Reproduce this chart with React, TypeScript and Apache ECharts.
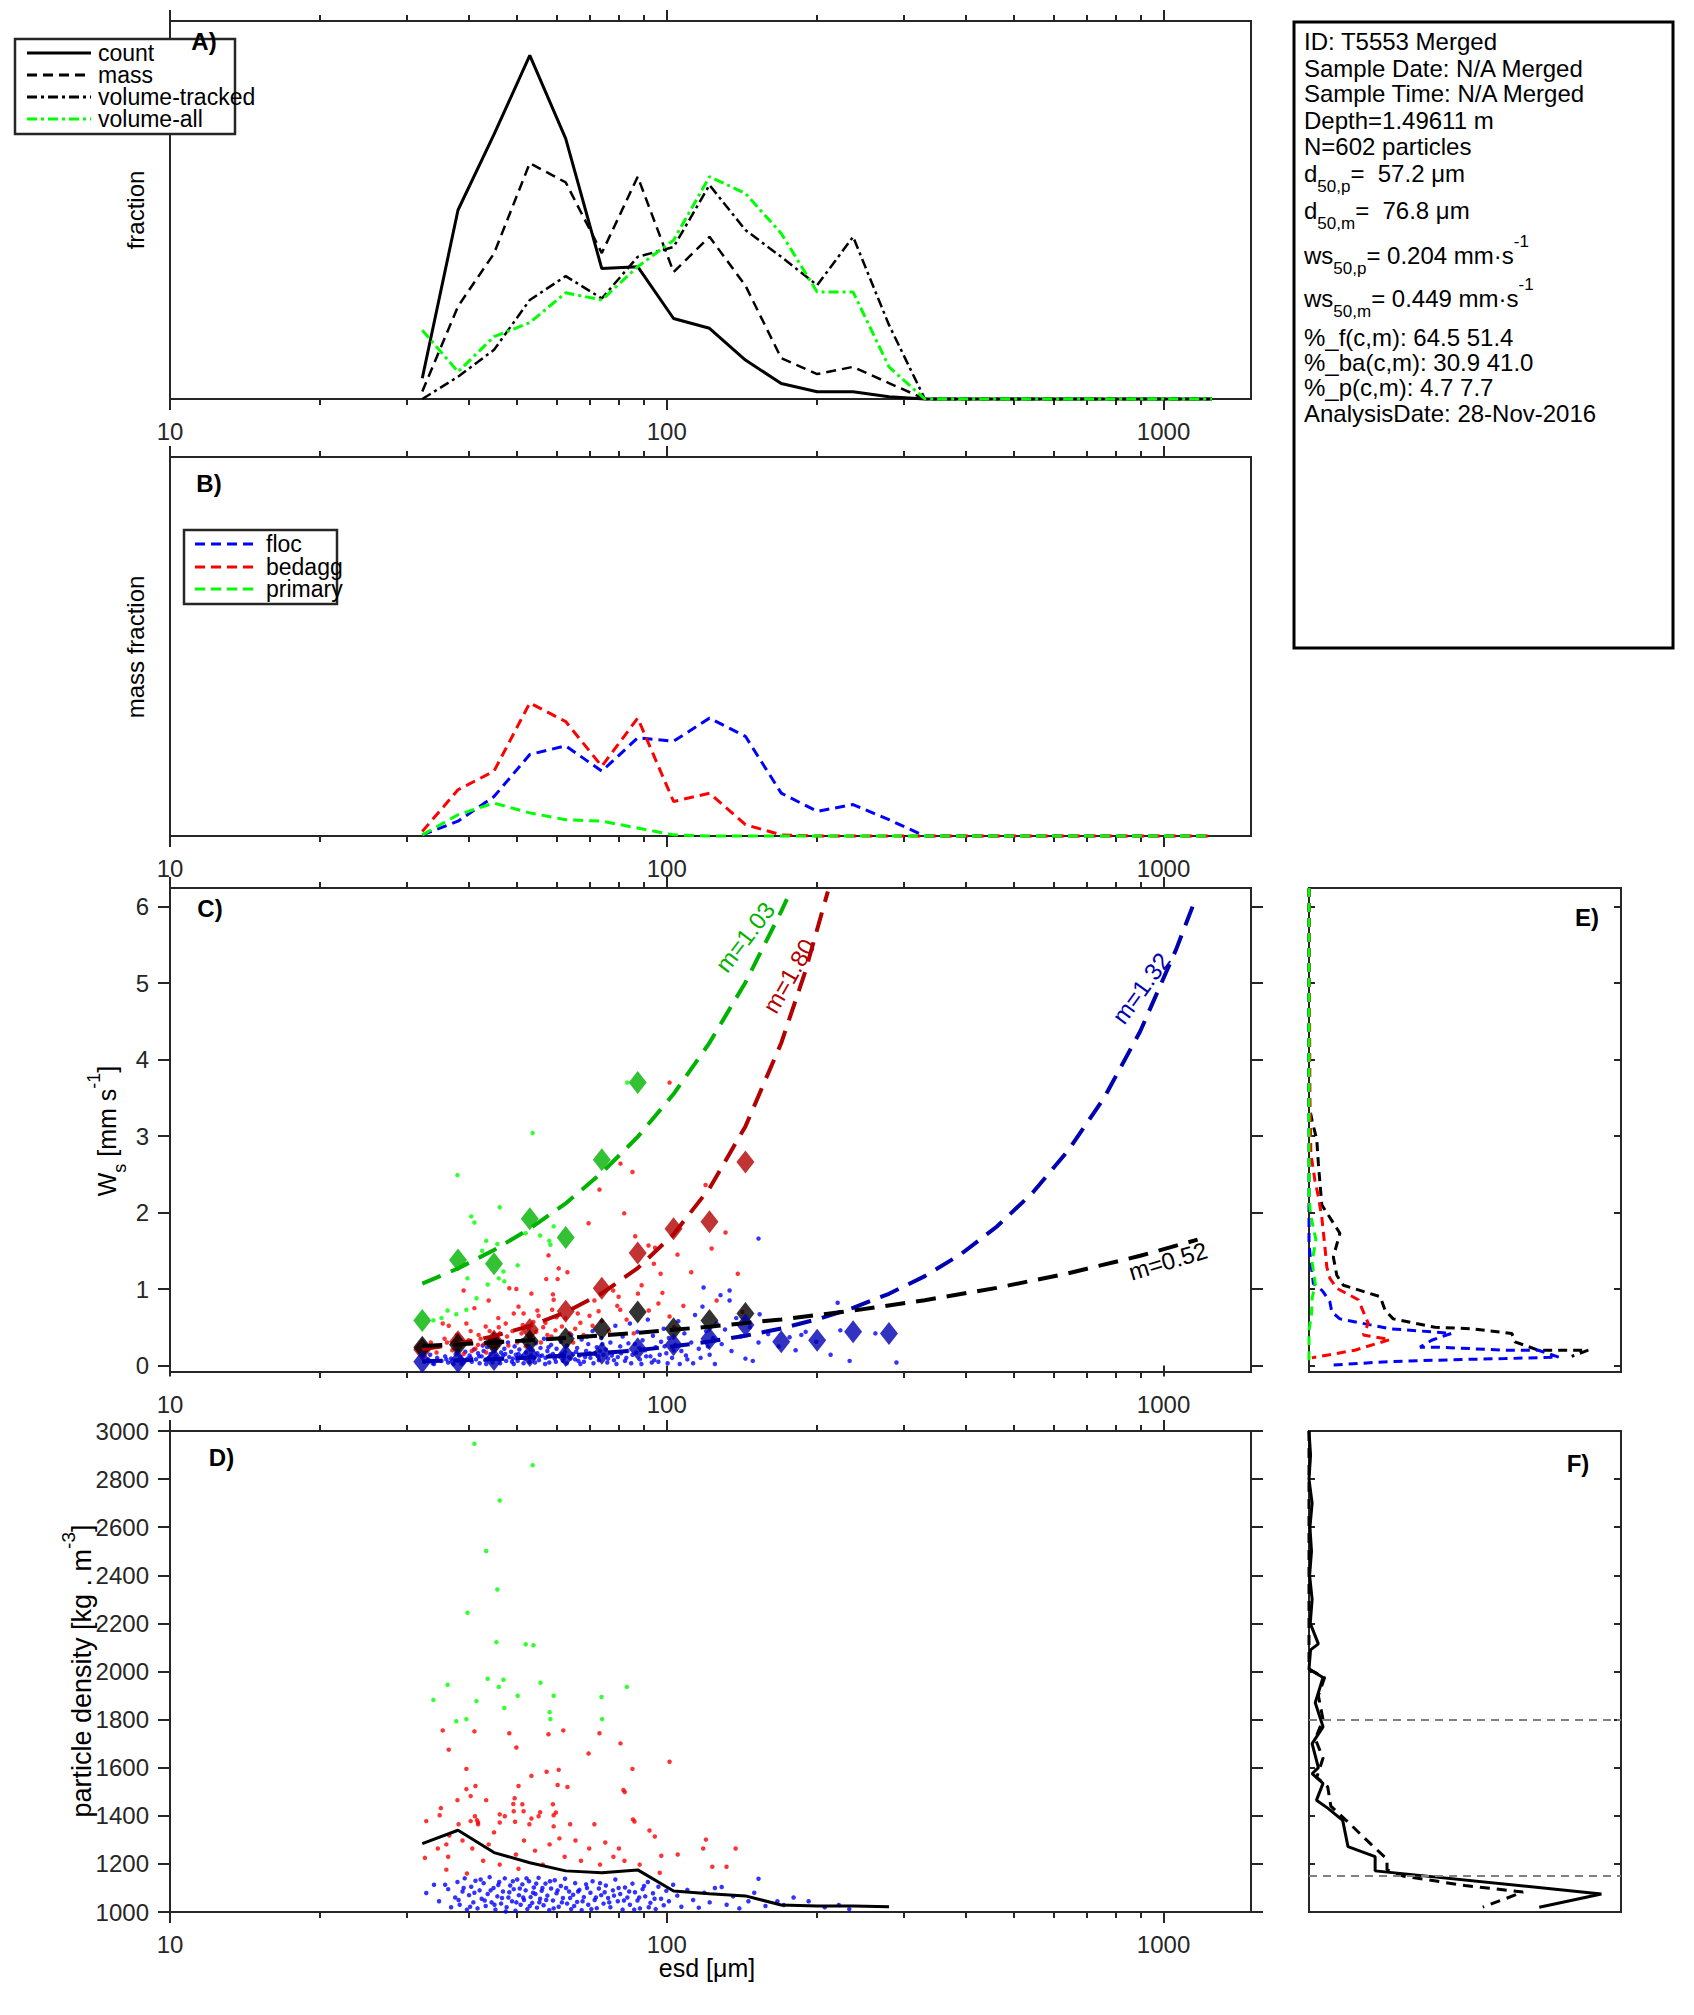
import React, { useEffect, useRef } from "react";
import * as echarts from "echarts";

// ---------------- data ----------------
const BIN_ESD = [32.2, 38.0, 44.9, 53.0, 62.6, 74.0, 87.4, 103.2, 121.9, 144.0, 170.0, 200.8, 237.2, 280.1, 330.8, 390.7, 461.4, 545.0, 643.6, 760.0, 897.7, 1060.3, 1252.2];

// Panel A (fraction)
const A_COUNT = [0.055, 0.50, 0.70, 0.909, 0.689, 0.345, 0.350, 0.213, 0.187, 0.103, 0.041, 0.019, 0.019, 0.006, 0, 0, 0, 0, 0, 0, 0, 0, 0];
const A_MASS = [0.02, 0.245, 0.385, 0.624, 0.573, 0.386, 0.588, 0.336, 0.429, 0.30, 0.108, 0.066, 0.085, 0.042, 0, 0, 0, 0, 0, 0, 0, 0, 0];
const A_VOL_TRACKED = [0.0, 0.059, 0.13, 0.262, 0.325, 0.266, 0.376, 0.402, 0.566, 0.447, 0.376, 0.301, 0.429, 0.196, 0, 0, 0, 0, 0, 0, 0, 0, 0];
const A_VOL_ALL = [0.182, 0.072, 0.165, 0.202, 0.281, 0.262, 0.35, 0.42, 0.588, 0.544, 0.438, 0.283, 0.283, 0.085, 0, 0, 0, 0, 0, 0, 0, 0, 0];

// Panel B (mass fraction)
const B_FLOC = [0.003, 0.039, 0.104, 0.215, 0.238, 0.171, 0.259, 0.25, 0.311, 0.263, 0.113, 0.065, 0.083, 0.043, 0, 0, 0, 0, 0, 0, 0, 0, 0];
const B_BEDAGG = [0.012, 0.122, 0.171, 0.351, 0.302, 0.184, 0.311, 0.091, 0.113, 0.030, 0.003, 0, 0, 0, 0, 0, 0, 0, 0, 0, 0, 0, 0];
const B_PRIMARY = [0.003, 0.056, 0.087, 0.061, 0.043, 0.039, 0.021, 0.003, 0, 0, 0, 0, 0, 0, 0, 0, 0, 0, 0, 0, 0, 0, 0];

// Panel C: bin medians (diamonds)
const C_MED_PRIMARY = [0.59, 1.38, 1.33, 1.92, 1.675, 2.69, 3.70];
const C_MED_BEDAGG = [0.21, 0.31, 0.32, 0.47, 0.71, 1.01, 1.47, 1.79, 1.88, 2.66];
const C_MED_ALL = [0.24, 0.27, 0.29, 0.32, 0.35, 0.48, 0.70, 0.48, 0.59, 0.68];
const C_MED_FLOC = [0.05, 0.05, 0.08, 0.13, 0.13, 0.16, 0.22, 0.27, 0.35, 0.53, 0.31, 0.33, 0.44, 0.42];

// Panel C: fitted curves
const FIT_PRIMARY_ESD = [32.2, 38.0, 44.9, 53.0, 62.6, 74.0, 87.4, 103.2, 121.9, 144.0, 170.0, 174.5];
const FIT_PRIMARY_WS = [1.07, 1.27, 1.51, 1.79, 2.12, 2.52, 2.99, 3.55, 4.22, 5.01, 5.94, 6.10];
const FIT_BEDAGG_ESD = [32.2, 38.0, 44.9, 53.0, 62.6, 74.0, 87.4, 103.2, 121.9, 144.0, 170.0, 190.0, 211.0];
const FIT_BEDAGG_WS = [0.211, 0.284, 0.384, 0.517, 0.698, 0.943, 1.273, 1.717, 2.317, 3.127, 4.218, 5.15, 6.20];
const FIT_FLOC_ESD = [32.2, 38.0, 44.9, 53.0, 62.6, 74.0, 87.4, 103.2, 121.9, 144.0, 170.0, 200.8, 237.2, 280.1, 330.8, 390.7, 461.4, 545.0, 643.6, 760.0, 897.7, 1060.3, 1147];
const FIT_FLOC_WS = [0.054, 0.067, 0.084, 0.104, 0.130, 0.162, 0.201, 0.251, 0.313, 0.389, 0.485, 0.604, 0.754, 0.938, 1.169, 1.455, 1.815, 2.259, 2.816, 3.506, 4.371, 5.442, 6.02];
const FIT_ALL_ESD = [32.2, 44.9, 62.6, 87.4, 121.9, 170.0, 237.2, 330.8, 461.4, 643.6, 897.7, 1171];
const FIT_ALL_WS = [0.254, 0.302, 0.359, 0.427, 0.508, 0.603, 0.718, 0.854, 1.015, 1.207, 1.435, 1.646];

// Panel C: particles [esd, ws]
const C_PRIMARY_PTS = [[37.9,2.49],[53.7,3.04],[40.4,1.95],[41.0,1.87],[46.1,2.07],[43.3,1.63],[45.6,1.59],[52.0,1.73],[55.6,1.70],[59.2,1.82],[58.0,1.63],[58.3,1.58],[50.1,1.31],[46.9,1.23],[47.1,1.10],[45.9,1.14],[43.6,1.06],[39.7,1.14],[41.4,0.88],[39.5,0.73],[37.7,0.67],[36.2,0.72],[33.9,0.59],[83.2,3.70],[35.2,0.62],[42.5,1.50]];
const C_BEDAGG_PTS = [[101.3,3.70],[80.7,2.64],[85.3,2.53],[73.2,2.30],[82.1,1.99],[69.6,1.86],[119.7,2.36],[131.3,1.74],[123.1,1.53],[105.1,1.45],[86.4,1.69],[91.9,1.57],[94.7,1.54],[94.2,1.33],[97.2,1.20],[57.8,1.44],[60.6,1.27],[63.1,1.22],[60.3,1.13],[57.2,1.13],[48.2,1.01],[49.8,1.00],[53.4,0.94],[59.0,0.93],[59.2,0.86],[80.0,0.90],[87.5,0.94],[96.2,0.81],[41.0,0.75],[35.4,0.55],[36.4,0.52],[39.5,0.55],[50.3,0.77],[49.2,0.68],[51.5,0.68],[54.9,0.72],[55.2,0.65],[58.8,0.73],[60.0,0.63],[69.9,0.65],[72.9,0.71],[70.9,0.52],[79.5,0.78],[80.6,0.73],[40.3,0.45],[41.8,0.40],[43.2,0.51],[45.9,0.50],[46.1,0.42],[47.7,0.38],[41.7,0.27],[40.5,0.19],[36.1,0.30],[34.4,0.17],[43.3,0.17],[51.3,0.53],[53.9,0.57],[57.0,0.56],[61.5,0.51],[65.4,0.48],[67.0,0.56],[57.5,0.40],[101.3,0.64],[32.6,0.22],[33.5,0.30],[34.8,0.25],[35.7,0.35],[37.0,0.20],[37.8,0.40],[38.5,0.28],[39.0,0.15],[39.9,0.33],[41.2,0.22],[42.2,0.35],[42.9,0.28],[44.0,0.45],[44.5,0.30],[45.1,0.22],[46.5,0.31],[47.4,0.55],[48.0,0.26],[48.9,0.45],[50.0,0.30],[51.0,0.42],[52.0,0.25],[52.8,0.48],[53.5,0.35],[54.6,0.44],[55.8,0.30],[56.4,0.50],[58.6,0.38],[59.7,0.46],[61.0,0.35],[62.5,0.62],[63.8,0.42],[64.8,0.30],[66.2,0.68],[68.0,0.40],[71.5,0.85],[74.0,0.58],[76.5,0.45],[78.0,0.98],[83.0,0.60],[85.8,0.42],[89.0,1.05],[92.0,0.72],[98.0,0.95],[103.5,0.50],[108.0,0.78],[112.0,1.22],[126.0,0.85],[139.0,1.20],[142.0,0.70],[45.8,0.62],[43.8,0.85],[39.0,0.98]];
const C_FLOC_PTS = [[32.5,0.05],[33.1,0.08],[33.8,0.03],[34.5,0.10],[35.2,0.06],[35.8,0.12],[36.3,0.04],[33.4,0.14],[36.8,0.09],[37.2,0.02],[37.6,0.15],[38.0,0.07],[38.4,0.11],[38.9,0.04],[39.3,0.18],[39.7,0.09],[40.1,0.13],[40.5,0.05],[40.9,0.21],[41.3,0.08],[41.7,0.16],[42.0,0.03],[42.4,0.12],[42.8,0.19],[43.1,0.07],[43.5,0.24],[43.8,0.10],[44.2,0.15],[44.6,0.04],[45.0,0.20],[45.3,0.12],[45.7,0.27],[46.0,0.08],[46.4,0.17],[46.8,0.13],[47.1,0.22],[47.5,0.06],[47.9,0.30],[48.2,0.11],[48.6,0.18],[49.0,0.09],[49.4,0.25],[49.7,0.14],[50.1,0.06],[50.5,0.21],[50.9,0.12],[51.3,0.33],[51.7,0.09],[52.1,0.17],[52.5,0.26],[52.9,0.05],[53.3,0.14],[53.7,0.20],[54.1,0.10],[54.5,0.29],[54.9,0.16],[55.3,0.07],[55.7,0.23],[56.1,0.13],[56.6,0.35],[57.0,0.10],[57.5,0.19],[58.0,0.04],[58.5,0.27],[59.0,0.15],[59.5,0.09],[60.0,0.22],[60.6,0.12],[61.2,0.31],[61.8,0.06],[62.4,0.18],[63.0,0.26],[63.6,0.11],[64.2,0.40],[64.8,0.15],[65.4,0.08],[66.0,0.23],[66.7,0.13],[67.4,0.34],[68.1,0.05],[68.8,0.19],[69.5,0.28],[70.2,0.10],[70.9,0.45],[71.6,0.16],[72.3,0.24],[73.0,0.07],[73.8,0.36],[74.6,0.14],[75.4,0.21],[76.2,0.09],[77.0,0.30],[77.9,0.17],[78.8,0.52],[79.7,0.11],[80.6,0.25],[81.5,0.38],[82.4,0.06],[83.3,0.19],[84.3,0.55],[85.3,0.14],[86.3,0.28],[87.3,0.44],[88.3,0.08],[89.4,0.33],[90.5,0.20],[91.6,0.60],[92.7,0.12],[93.8,0.39],[95.0,0.24],[96.2,0.05],[97.4,0.31],[98.6,0.48],[99.8,0.16],[101,0.36],[102.5,0.10],[104,0.27],[105.5,0.58],[107,0.19],[108.5,0.42],[110,0.08],[112,0.30],[114,0.66],[116,0.22],[118,0.77],[118.6,1.02],[120,0.45],[122,0.14],[124,0.36],[126,0.55],[128.3,0.92],[129,0.28],[131,0.47],[133.8,0.98],[133.8,0.85],[135,0.19],[138,0.62],[141,0.38],[144,0.09],[147,0.50],[149,0.06],[153,1.66],[153.8,0.67],[153,0.30],[160,0.41],[168,0.25],[176.7,0.37],[181.7,0.20],[186.6,0.40],[190.4,0.44],[200,0.31],[213.7,0.14],[220.8,0.82],[223.6,0.46],[233.4,0.06],[263,0.42],[290,0.04],[34.0,0.02],[36.0,0.08],[38.6,0.02],[40.3,0.10],[41.9,0.12],[43.3,0.02],[44.9,0.09],[46.2,0.03],[47.3,0.15],[48.8,0.05],[50.3,0.15],[51.5,0.03],[52.7,0.11],[54.3,0.04],[55.5,0.12],[56.9,0.02],[58.2,0.13],[59.8,0.05],[61.5,0.15],[62.9,0.03],[64.0,0.09],[65.7,0.18],[67.0,0.02],[68.5,0.11],[70.0,0.16],[71.2,0.03],[72.8,0.12],[74.2,0.28],[75.9,0.04],[77.5,0.13],[79.2,0.02],[80.9,0.16],[82.9,0.10],[84.8,0.03],[86.8,0.17],[88.9,0.02],[90.9,0.12],[93.3,0.04],[96.8,0.14],[100.4,0.03],[103.2,0.20],[106.2,0.02],[109.3,0.13],[113,0.03],[117,0.10],[121,0.25],[125,0.02],[37.9,0.19],[42.6,0.26],[45.5,0.33],[49.2,0.02],[53.0,0.38],[57.8,0.24],[62.0,0.09],[66.4,0.06],[69.1,0.38],[73.4,0.19],[78.3,0.07],[83.7,0.29],[88.0,0.23],[94.4,0.07],[99.0,0.25]];

// Panel D: particles [esd, density]
const D_PRIMARY_PTS = [[41.0,2947],[53.7,2858],[46.1,2711],[43.3,2501],[45.6,2341],[39.7,2244],[45.4,2122],[52.0,2113],[53.9,2109],[43.6,1970],[46.9,1966],[36.2,1945],[45.9,1936],[55.7,1953],[83.1,1936],[33.9,1882],[41.4,1877],[50.1,1899],[59.2,1899],[73.9,1894],[47.1,1848],[58.1,1831],[58.3,1802],[74.1,1802],[39.5,1802],[37.7,1793]];
const D_BEDAGG_PTS = [[35.4,1755],[41.0,1751],[48.2,1743],[57.8,1739],[61.9,1755],[73.2,1743],[36.4,1675],[49.8,1684],[80.7,1701],[69.6,1659],[101.3,1625],[39.5,1595],[85.3,1595],[53.4,1566],[57.3,1583],[60.6,1591],[39.5,1511],[41.2,1524],[50.3,1524],[60.3,1528],[63.1,1520],[81.8,1507],[82.3,1499],[40.3,1482],[37.9,1465],[43.3,1465],[49.4,1473],[51.2,1448],[59.0,1448],[34.9,1402],[46.1,1406],[49.2,1419],[51.5,1419],[55.2,1398],[53.4,1389],[59.2,1402],[59.8,1414],[85.5,1385],[86.1,1376],[40.3,1378],[41.5,1382],[41.7,1372],[46.1,1372],[49.5,1375],[32.8,1378],[32.6,1225],[34.6,1264],[36.0,1281],[36.3,1230],[36.0,1176],[35.1,1432],[36.5,1318],[38.1,1365],[38.8,1297],[39.6,1160],[40.6,1264],[41.1,1398],[41.7,1365],[42.7,1213],[43.8,1281],[44.9,1331],[46.1,1197],[47.2,1398],[49.1,1449],[49.7,1239],[50.3,1180],[51.6,1297],[52.9,1365],[54.3,1255],[55.6,1415],[56.3,1197],[58.1,1281],[59.2,1356],[60.8,1306],[62.3,1230],[63.9,1365],[65.5,1297],[67.2,1213],[69.8,1264],[71.5,1365],[73.4,1197],[75.2,1289],[78.1,1230],[80.1,1264],[82.2,1213],[88.2,1197],[92.3,1339],[94.6,1314],[96.8,1163],[97.5,1234],[105.2,1239],[118.4,1264],[119.9,1301],[123.5,1188],[131.9,1188],[137.6,1264]];
const D_FLOC_PTS = [[32.8,1079],[34.0,1113],[34.8,1045],[35.8,1113],[36.8,1020],[36.3,1095],[37.5,1060],[37.9,1125],[38.3,1030],[38.8,1085],[39.2,1140],[39.6,1010],[40.0,1070],[40.4,1105],[40.8,1040],[41.2,1130],[41.6,1015],[42.0,1090],[42.4,1055],[42.8,1120],[43.2,1025],[43.6,1075],[44.0,1145],[44.4,1040],[44.8,1100],[45.2,1010],[45.6,1065],[46.0,1125],[46.4,1035],[46.8,1085],[47.2,1140],[47.6,1020],[48.0,1060],[48.4,1110],[48.8,1045],[49.2,1095],[49.6,1005],[50.0,1135],[50.4,1070],[50.8,1030],[51.2,1115],[51.6,1050],[52.0,1090],[52.4,1012],[52.8,1128],[53.2,1062],[53.6,1038],[54.0,1102],[54.4,1075],[54.8,1018],[55.2,1142],[55.6,1055],[56.0,1088],[56.5,1028],[57.0,1118],[57.5,1068],[58.0,1008],[58.5,1098],[59.0,1048],[59.5,1132],[60.0,1078],[60.6,1022],[61.2,1108],[61.8,1058],[62.4,1138],[63.0,1035],[63.6,1085],[64.2,1012],[64.8,1072],[65.4,1120],[66.0,1042],[66.7,1092],[67.4,1008],[68.1,1062],[68.8,1115],[69.5,1030],[70.2,1080],[70.9,1128],[71.6,1050],[72.3,1016],[73.0,1098],[73.8,1070],[74.6,1035],[75.4,1110],[76.2,1058],[77.0,1020],[77.9,1090],[78.8,1135],[79.7,1045],[80.6,1075],[81.5,1010],[82.4,1102],[83.3,1060],[84.3,1030],[85.3,1118],[86.3,1082],[87.3,1048],[88.3,1015],[89.4,1095],[90.5,1065],[91.6,1125],[92.7,1038],[93.8,1078],[95.0,1012],[96.2,1105],[97.4,1055],[98.6,1028],[99.8,1088],[101,1045],[103,1113],[105,1068],[107,1022],[110,1092],[113,1050],[116,1018],[119,1080],[122,1040],[125,1100],[129,1104],[132,1030],[136,1065],[140,1015],[146,1045],[150,1080],[153,1138],[158,1025],[167,1045],[172,1029],[180,1060],[193,1045],[208,1020],[222,1029],[233,1012],[38.1,1050],[39.0,1100],[40.2,1022],[41.0,1080],[42.2,1135],[43.0,1048],[44.2,1090],[45.0,1030],[45.8,1112],[46.6,1058],[47.4,1002],[48.2,1082],[49.0,1128],[49.8,1040],[50.6,1098],[51.4,1060],[52.2,1140],[53.0,1025],[53.8,1080],[54.6,1118],[55.4,1040],[56.2,1100],[57.2,1050],[58.2,1128],[59.2,1015],[60.3,1090],[61.5,1040],[62.7,1100],[63.9,1058],[65.1,1025],[66.3,1085],[67.7,1045],[69.1,1100],[70.5,1012],[72.0,1060],[73.4,1120],[75.0,1082],[76.6,1040],[78.3,1068],[80.0,1100],[82.0,1048],[84.0,1085],[86.0,1010],[88.0,1060],[90.0,1108],[92.0,1020],[94.5,1055]];
const D_MEAN_RHO = [1284, 1340, 1247, 1205, 1171, 1163, 1175, 1087, 1076, 1067, 1029, 1025, 1025, 1022];

// Panel E: [fraction, ws]
const E_ALL = [[0,6.245],[0,3.4],[0.01,3.2],[0.025,2.95],[0.03,2.64],[0.041,2.10],[0.099,1.73],[0.078,1.42],[0.089,1.18],[0.11,1.05],[0.228,0.90],[0.244,0.72],[0.27,0.61],[0.404,0.50],[0.521,0.48],[0.65,0.42],[0.66,0.31],[0.735,0.20],[0.895,0.20],[0.842,0.12]];
const E_FLOC = [[0,6.245],[0,1.6],[0.005,1.38],[0.014,1.07],[0.03,1.03],[0.046,0.96],[0.067,0.83],[0.073,0.70],[0.099,0.61],[0.26,0.48],[0.361,0.45],[0.457,0.42],[0.393,0.33],[0.356,0.24],[0.414,0.24],[0.628,0.20],[0.735,0.20],[0.80,0.11],[0.628,0.09],[0.5,0.08],[0.254,0.05],[0.073,0.006]];
const E_BEDAGG = [[0,6.245],[0.003,3.5],[0.006,2.77],[0.019,2.42],[0.03,2.21],[0.041,1.94],[0.051,1.55],[0.057,1.29],[0.067,1.14],[0.089,1.01],[0.158,0.86],[0.19,0.55],[0.174,0.40],[0.26,0.34],[0.147,0.20],[0.009,0.10]];
const E_PRIMARY = [[0,6.245],[0,2.2],[0.005,1.97],[0.022,1.65],[0.01,1.35],[0.02,1.07],[0.01,0.88],[0.008,0.68],[0,0.45],[0,0.0]];

// Panel F: [fraction, density]
const F_COUNT = [[0.0,3000],[0.005,2900],[0,2800],[0.01,2700],[0.003,2600],[0.008,2500],[0.002,2400],[0.01,2300],[0.004,2200],[0.03,2115],[0.005,2090],[0.0,2010],[0.045,1975],[0.02,1870],[0.045,1770],[0.01,1700],[0.03,1600],[0.01,1575],[0.045,1535],[0.024,1465],[0.06,1432],[0.108,1381],[0.125,1272],[0.212,1230],[0.212,1171],[0.937,1075],[0.738,1020]];
const F_MASS = [[0,3000],[0,2010],[0.05,1975],[0.03,1900],[0.045,1800],[0.02,1720],[0.045,1640],[0.025,1560],[0.06,1520],[0.07,1440],[0.12,1380],[0.2,1280],[0.25,1220],[0.25,1175],[0.3,1150],[0.5,1110],[0.686,1083],[0.557,1020]];
const F_REF_LINES = [1800, 1150];

// ticks
const TICK_MAJOR = [10, 100, 1000];
const TICK_MINOR = [20, 30, 40, 50, 60, 70, 80, 90, 200, 300, 400, 500, 600, 700, 800, 900];
const WS_TICKS = [0, 1, 2, 3, 4, 5, 6];

const INFO_TOP = ["ID: T5553 Merged", "Sample Date: N/A Merged", "Sample Time: N/A Merged", "Depth=1.49611 m", "N=602 particles"];
const INFO_RICH = [
  "{n|d}{s|50,p}{n|=\u00a0\u00a057.2 \u03bcm}",
  "{n|d}{s|50,m}{n|=\u00a0\u00a076.8 \u03bcm}",
  "{n|ws}{s|50,p}{n|= 0.204 mm\u00b7s}{p|-1}",
  "{n|ws}{s|50,m}{n|= 0.449 mm\u00b7s}{p|-1}",
];
const INFO_BOTTOM = ["%_f(c,m): 64.5 51.4", "%_ba(c,m): 30.9 41.0", "%_p(c,m): 4.7 7.7", "AnalysisDate: 28-Nov-2016"];

// ---------------- styling / layout ----------------
const FONT = "'Liberation Sans', Arial, Helvetica, sans-serif";
const AX = "#262626";
const LMAX = Math.log10(1500);

const pairs = (xs: number[], ys: number[]) => ys.map((y, i) => [xs[i], y]);

function esdAxes(gridIndex: number) {
  const common: any = { type: "value", gridIndex, min: 1, max: LMAX, axisLine: { show: false }, splitLine: { show: false } };
  const tick = (vals: number[], len: number) => ({ show: true, customValues: vals.map((v) => Math.log10(v)), length: len, lineStyle: { color: AX, width: 2 } });
  return [
    { type: "log", logBase: 10, gridIndex, min: 10, max: 1500, show: false },
    {
      ...common, position: "bottom", axisTick: tick(TICK_MAJOR, 11),
      axisLabel: { show: true, customValues: TICK_MAJOR.map((v) => Math.log10(v)), formatter: (v: number) => String(Math.round(Math.pow(10, v))), margin: 20, fontSize: 24, fontFamily: FONT, color: AX },
    },
    { ...common, position: "bottom", axisTick: tick(TICK_MINOR, 6), axisLabel: { show: false } },
    { ...common, position: "top", axisTick: tick(TICK_MAJOR, 11), axisLabel: { show: false } },
    { ...common, position: "top", axisTick: tick(TICK_MINOR, 6), axisLabel: { show: false } },
  ];
}

function yAxisDef(gridIndex: number, min: number, max: number, opts: any) {
  const base: any = { type: "value", gridIndex, min, max, axisLine: { show: false }, splitLine: { show: false }, axisTick: { show: false }, axisLabel: { show: false } };
  return { ...base, ...opts };
}

const tickStyle = { color: AX, width: 2 };
const labelStyle = { fontSize: 24, fontFamily: FONT, color: AX, margin: 21 };

function lineSeries(name: string, x: number, y: number, data: any[], color: string, width: number, type: any, z = 3) {
  return { name, type: "line", xAxisIndex: x, yAxisIndex: y, data, symbol: "none", clip: false, silent: true, z, lineStyle: { color, width, type } };
}
function dots(name: string, x: number, y: number, data: any[], color: string) {
  return { name, type: "scatter", xAxisIndex: x, yAxisIndex: y, data, symbol: "circle", symbolSize: 4.5, silent: true, itemStyle: { color, borderWidth: 0 } };
}
function diamonds(name: string, data: any[], color: string) {
  return { name, type: "scatter", xAxisIndex: 10, yAxisIndex: 2, data, symbol: "diamond", symbolSize: [18, 23], silent: true, z: 4, itemStyle: { color, borderWidth: 0 } };
}

const DASH = [10, 6];
const DASHDOT = [10, 4, 3, 4];
const FITDASH = [20, 11];

function txt(x: number, y: number, text: string, size: number, extra: any = {}, rotation = 0) {
  return {
    type: "text", x, y, rotation, z: 110,
    style: { text, fontSize: size, fontFamily: FONT, fill: extra.fill || "#000", fontWeight: extra.fontWeight || "normal", align: extra.align || "center", verticalAlign: "middle", textAlign: extra.align || "center", textVerticalAlign: "middle", rich: extra.rich },
  };
}
function richStyle(size: number, sub: number, lh: number) {
  return {
    n: { fontSize: size, lineHeight: lh, verticalAlign: "middle", fontFamily: FONT, fill: "#000" },
    s: { fontSize: sub, lineHeight: sub, verticalAlign: "bottom", fontFamily: FONT, fill: "#000" },
    p: { fontSize: sub, lineHeight: sub, verticalAlign: "top", fontFamily: FONT, fill: "#000" },
  };
}
function lgLine(x1: number, x2: number, y: number, color: string, dash: any) {
  return { type: "line", z: 111, shape: { x1, y1: y, x2, y2: y }, style: { stroke: color, lineWidth: 3, lineDash: dash } };
}

function buildOption() {
  const grids = [
    { left: 170, top: 21, width: 1081, height: 378 },
    { left: 170, top: 457, width: 1081, height: 379 },
    { left: 170, top: 888, width: 1081, height: 484 },
    { left: 170, top: 1431, width: 1081, height: 481 },
    { left: 1309, top: 888, width: 312, height: 484 },
    { left: 1309, top: 1431, width: 312, height: 481 },
  ].map((g) => ({ ...g, show: true, borderColor: AX, borderWidth: 2, backgroundColor: "rgba(0,0,0,0)", containLabel: false }));

  const xAxis: any[] = [
    ...esdAxes(0), ...esdAxes(1), ...esdAxes(2), ...esdAxes(3),
    { type: "value", gridIndex: 4, min: 0, max: 1, show: false },
    { type: "value", gridIndex: 5, min: 0, max: 1, show: false },
  ];

  const yAxis: any[] = [
    yAxisDef(0, 0, 1, {}),
    yAxisDef(1, 0, 1, {}),
    yAxisDef(2, -0.085, 6.245, { position: "left", axisTick: { show: true, customValues: WS_TICKS, length: 12, lineStyle: tickStyle }, axisLabel: { show: true, customValues: WS_TICKS, ...labelStyle } }),
    yAxisDef(2, -0.085, 6.245, { position: "right", axisTick: { show: true, customValues: WS_TICKS, length: 12, lineStyle: tickStyle } }),
    yAxisDef(3, 1000, 3000, { position: "left", interval: 200, axisTick: { show: true, length: 12, lineStyle: tickStyle }, axisLabel: { show: true, formatter: (v: number) => String(v), ...labelStyle } }),
    yAxisDef(3, 1000, 3000, { position: "right", interval: 200, axisTick: { show: true, length: 12, lineStyle: tickStyle } }),
    yAxisDef(4, -0.085, 6.245, { position: "left", axisTick: { show: true, inside: true, customValues: WS_TICKS, length: 6, lineStyle: tickStyle } }),
    yAxisDef(4, -0.085, 6.245, { position: "right", axisTick: { show: true, inside: true, customValues: WS_TICKS, length: 7, lineStyle: tickStyle } }),
    yAxisDef(5, 1000, 3000, { position: "left", interval: 200, axisTick: { show: true, inside: true, length: 6, lineStyle: tickStyle } }),
    yAxisDef(5, 1000, 3000, { position: "right", interval: 200, axisTick: { show: true, inside: true, length: 7, lineStyle: tickStyle } }),
  ];

  const series: any[] = [
    // A
    lineSeries("count", 0, 0, pairs(BIN_ESD, A_COUNT), "#000", 3, "solid"),
    lineSeries("mass", 0, 0, pairs(BIN_ESD, A_MASS), "#000", 2.5, DASH),
    lineSeries("volume-tracked", 0, 0, pairs(BIN_ESD, A_VOL_TRACKED), "#000", 2.5, DASHDOT),
    lineSeries("volume-all", 0, 0, pairs(BIN_ESD, A_VOL_ALL), "#00ff00", 3, DASHDOT),
    // B
    lineSeries("floc", 5, 1, pairs(BIN_ESD, B_FLOC), "#0000ff", 3, DASH),
    lineSeries("bedagg", 5, 1, pairs(BIN_ESD, B_BEDAGG), "#ff0000", 3, DASH),
    lineSeries("primary", 5, 1, pairs(BIN_ESD, B_PRIMARY), "#00ff00", 3, DASH),
    // C
    dots("c-floc", 10, 2, C_FLOC_PTS, "#0000ff"),
    dots("c-bedagg", 10, 2, C_BEDAGG_PTS, "#ff0000"),
    dots("c-primary", 10, 2, C_PRIMARY_PTS, "#00ff00"),
    diamonds("med-primary", pairs(BIN_ESD, C_MED_PRIMARY), "#00b300"),
    diamonds("med-bedagg", pairs(BIN_ESD, C_MED_BEDAGG), "#b30000"),
    diamonds("med-all", pairs(BIN_ESD, C_MED_ALL), "#000000"),
    diamonds("med-floc", pairs(BIN_ESD, C_MED_FLOC), "#0000b3"),
    lineSeries("fit-primary", 10, 2, pairs(FIT_PRIMARY_ESD, FIT_PRIMARY_WS), "#00b300", 4, FITDASH, 5),
    lineSeries("fit-bedagg", 10, 2, pairs(FIT_BEDAGG_ESD, FIT_BEDAGG_WS), "#b30000", 4, FITDASH, 5),
    lineSeries("fit-floc", 10, 2, pairs(FIT_FLOC_ESD, FIT_FLOC_WS), "#0000b3", 4, FITDASH, 5),
    lineSeries("fit-all", 10, 2, pairs(FIT_ALL_ESD, FIT_ALL_WS), "#000000", 4, FITDASH, 5),
    // D
    dots("d-floc", 15, 4, D_FLOC_PTS, "#0000ff"),
    dots("d-bedagg", 15, 4, D_BEDAGG_PTS, "#ff0000"),
    dots("d-primary", 15, 4, D_PRIMARY_PTS, "#00ff00"),
    lineSeries("d-mean", 15, 4, pairs(BIN_ESD, D_MEAN_RHO), "#000", 3, "solid", 5),
    // E
    lineSeries("e-all", 20, 6, E_ALL, "#000", 3, [9, 6]),
    lineSeries("e-floc", 20, 6, E_FLOC, "#0000ff", 3, [9, 6]),
    lineSeries("e-bedagg", 20, 6, E_BEDAGG, "#ff0000", 3, [9, 6]),
    lineSeries("e-primary", 20, 6, E_PRIMARY, "#00ff00", 3, [9, 6]),
    // F
    {
      ...lineSeries("f-count", 21, 8, F_COUNT, "#000", 3, "solid"),
      markLine: { silent: true, symbol: ["none", "none"], label: { show: false }, lineStyle: { color: "#808080", type: [8, 6], width: 2 }, data: F_REF_LINES.map((v) => ({ yAxis: v })) },
    },
    lineSeries("f-mass", 21, 8, F_MASS, "#000", 3, [10, 7]),
  ];

  const g: any[] = [];
  // legend A
  g.push({ type: "rect", z: 110, shape: { x: 15, y: 39, width: 220, height: 95 }, style: { fill: "#fff", stroke: AX, lineWidth: 2.5 } });
  g.push(lgLine(27, 91, 53, "#000", null), lgLine(27, 91, 75, "#000", DASH), lgLine(27, 91, 97, "#000", DASHDOT), lgLine(27, 91, 119, "#00ff00", DASHDOT));
  ["count", "mass", "volume-tracked", "volume-all"].forEach((t, i) => g.push(txt(98, 53 + i * 22, t, 23, { align: "left" })));
  // legend B
  g.push({ type: "rect", z: 110, shape: { x: 184, y: 530, width: 153, height: 74 }, style: { fill: "#fff", stroke: AX, lineWidth: 2.5 } });
  g.push(lgLine(195, 257, 544, "#0000ff", DASH), lgLine(195, 257, 567, "#ff0000", DASH), lgLine(195, 257, 589, "#00ff00", DASH));
  ["floc", "bedagg", "primary"].forEach((t, i) => g.push(txt(266, 544 + i * 22.5, t, 23, { align: "left" })));
  // info box
  g.push({ type: "rect", z: 110, shape: { x: 1294, y: 22, width: 379, height: 626 }, style: { fill: "#fff", stroke: "#000", lineWidth: 3 } });
  const topY = [41.7, 68, 93, 120, 146];
  INFO_TOP.forEach((t, i) => g.push(txt(1304, topY[i], t, 24, { align: "left" })));
  const richY = [173, 210, 255, 298];
  INFO_RICH.forEach((t, i) => g.push(txt(1304, richY[i], t, 24, { align: "left", rich: richStyle(24, 17, 44) })));
  const botY = [337, 362, 387, 413];
  INFO_BOTTOM.forEach((t, i) => g.push(txt(1304, botY[i], t, 24, { align: "left" })));
  // panel labels
  [["A)", 204, 41.7], ["B)", 209, 483], ["C)", 210, 908], ["D)", 221.5, 1457], ["E)", 1587, 917], ["F)", 1578, 1463]].forEach(([t, x, y]) =>
    g.push(txt(x as number, y as number, t as string, 24, { fontWeight: "bold" }))
  );
  // axis titles
  g.push(txt(135, 210, "fraction", 24, {}, Math.PI / 2));
  g.push(txt(135, 647, "mass fraction", 24, {}, Math.PI / 2));
  g.push(txt(107, 1131, "{n|W}{s|s}{n|\u00a0[mm s}{p|-1}{n|]}", 25, { rich: richStyle(25, 18, 44) }, Math.PI / 2));
  g.push(txt(82, 1671, "{n|particle density [kg . m}{p|-3}{n|]}", 27, { rich: richStyle(27, 19, 46) }, Math.PI / 2));
  g.push(txt(707, 1968, "esd [\u03bcm]", 25));
  // fit labels
  g.push(txt(745, 937, "m=1.03", 24, { fill: "#00b300" }, (52.6 * Math.PI) / 180));
  g.push(txt(789, 976, "m=1.80", 24, { fill: "#b30000" }, (60 * Math.PI) / 180));
  g.push(txt(1141, 988, "m=1.32", 24, { fill: "#0000b3" }, (54 * Math.PI) / 180));
  g.push(txt(1168, 1261, "m=0.52", 24, { fill: "#000" }, (16.6 * Math.PI) / 180));

  return {
    animation: false,
    backgroundColor: "#ffffff",
    textStyle: { fontFamily: FONT },
    grid: grids,
    xAxis,
    yAxis,
    series,
    graphic: { elements: g },
  };
}

export default function App() {
  const ref = useRef<HTMLDivElement>(null);
  useEffect(() => {
    if (!ref.current) return;
    const chart = echarts.init(ref.current, null, { renderer: "svg" });
    chart.setOption(buildOption() as any);
    return () => chart.dispose();
  }, []);
  return <div ref={ref} style={{ position: "absolute", left: 0, top: 0, width: 1694, height: 2015, background: "#fff" }} />;
}
